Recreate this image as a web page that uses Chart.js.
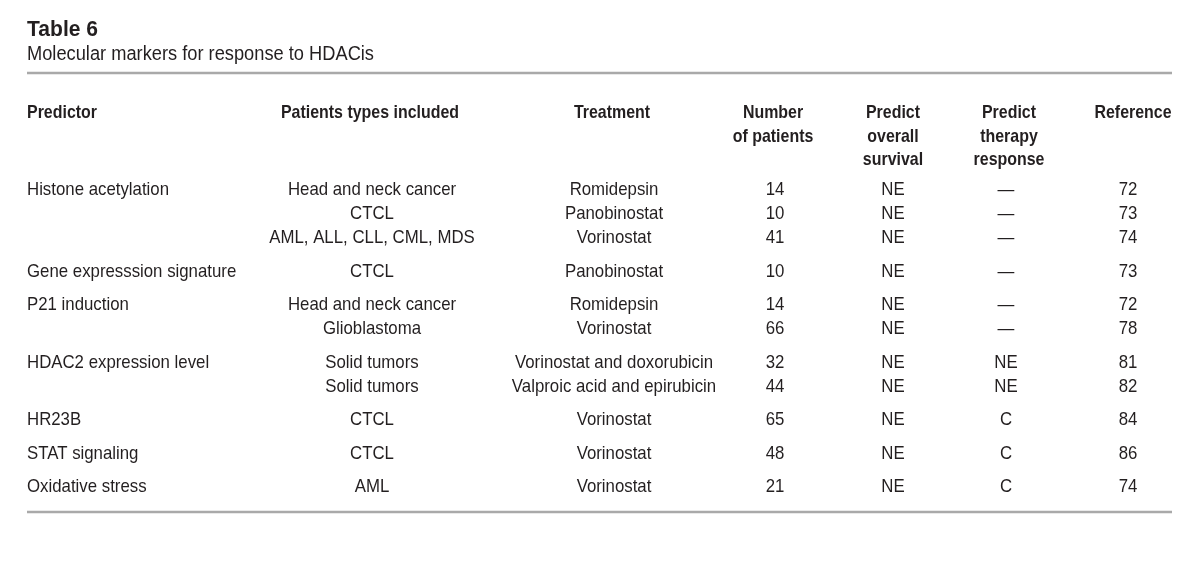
<!DOCTYPE html>
<html>
<head>
<meta charset="utf-8">
<script src="https://cdn.jsdelivr.net/npm/chart.js@4/dist/chart.umd.min.js"></script>
<style>
  html, body { margin: 0; padding: 0; background: #fff; }
  #tableChart { display: block; }
</style>
</head>
<body>
<canvas id="tableChart" width="1200" height="579"></canvas>
<script>
// table content, one array per column
const title = 'Table 6';
const subtitle = 'Molecular markers for response to HDACis';

const headers = [
    ['Predictor'],
    ['Patients types included'],
    ['Treatment'],
    ['Number', 'of patients'],
    ['Predict', 'overall', 'survival'],
    ['Predict', 'therapy', 'response'],
    ['Reference']
];

const predictor = ['Histone acetylation', '', '', 'Gene expresssion signature', 'P21 induction', '',
    'HDAC2 expression level', '', 'HR23B', 'STAT signaling', 'Oxidative stress'];
const patientTypes = ['Head and neck cancer', 'CTCL', 'AML, ALL, CLL, CML, MDS', 'CTCL', 'Head and neck cancer',
    'Glioblastoma', 'Solid tumors', 'Solid tumors', 'CTCL', 'CTCL', 'AML'];
const treatment = ['Romidepsin', 'Panobinostat', 'Vorinostat', 'Panobinostat', 'Romidepsin', 'Vorinostat',
    'Vorinostat and doxorubicin', 'Valproic acid and epirubicin', 'Vorinostat', 'Vorinostat', 'Vorinostat'];
const numPatients = [14, 10, 41, 10, 14, 66, 32, 44, 65, 48, 21];
const predictSurvival = ['NE', 'NE', 'NE', 'NE', 'NE', 'NE', 'NE', 'NE', 'NE', 'NE', 'NE'];
const predictTherapy = ['\u2014', '\u2014', '\u2014', '\u2014', '\u2014', '\u2014', 'NE', 'NE', 'C', 'C', 'C'];
const reference = [72, 73, 74, 73, 72, 78, 81, 82, 84, 86, 74];
// row groups (a new predictor starts a group)
const group = [0, 0, 0, 1, 2, 2, 3, 3, 4, 5, 6];

// layout
const columns = [predictor, patientTypes, treatment, numPatients, predictSurvival, predictTherapy, reference];
const headX = [27, 370, 612, 773, 893, 1009, 1133];
const colX = [27, 372, 614, 775, 893, 1006, 1128];
const colAlign = ['left', 'center', 'center', 'center', 'center', 'center', 'center'];
const ruleLeft = 27, ruleRight = 1172;
const topRuleY = 73, bottomRuleY = 512;
const headBase = 118, headLine = 23.5;
const rowBase = 195, rowLine = 24, groupGap = 9.5;

const FONT = "'Liberation Sans Narrow', 'Liberation Sans', Arial, sans-serif";
const textColor = '#231f20';
const ruleColor = '#a9a9a9';

// build one point per cell so the library places every cell
const cells = [];
headers.forEach((lines, c) => {
    lines.forEach((txt, l) => {
        cells.push({ x: headX[c], y: headBase + l * headLine, text: txt, bold: true, align: colAlign[c] });
    });
});
columns.forEach((col, c) => {
    col.forEach((val, r) => {
        if (val === '') return;
        cells.push({
            x: colX[c],
            y: rowBase + r * rowLine + group[r] * groupGap,
            text: String(val), bold: false, align: colAlign[c]
        });
    });
});

// squeeze the font horizontally so it looks like a condensed face
function squeeze(ctx, font, sample, target) {
    ctx.font = font;
    const w = ctx.measureText(sample).width;
    return w > 0 ? Math.min(1, target / w) : 1;
}

const tablePlugin = {
    id: 'tableText',
    afterDatasetsDraw(chart) {
        const ctx = chart.ctx;
        const xs = chart.scales.x, ys = chart.scales.y;
        const regFont = '19px ' + FONT;
        const boldFont = 'bold 19px ' + FONT;
        const titleFont = 'bold 22px ' + FONT;
        const subFont = '20px ' + FONT;
        const sReg = squeeze(ctx, regFont, 'Histone acetylation', 142);
        const sBold = squeeze(ctx, boldFont, 'Predictor', 70);
        const sTitle = squeeze(ctx, titleFont, title, 71);
        const sSub = squeeze(ctx, subFont, subtitle, 347);

        function drawText(txt, px, py, font, sx, align) {
            ctx.save();
            ctx.font = font;
            ctx.fillStyle = textColor;
            ctx.textBaseline = 'alphabetic';
            ctx.textAlign = align;
            ctx.translate(px, py);
            ctx.scale(sx, 1);
            ctx.fillText(txt, 0, 0);
            ctx.restore();
        }

        // title and subtitle
        drawText(title, xs.getPixelForValue(ruleLeft), ys.getPixelForValue(36), titleFont, sTitle, 'left');
        drawText(subtitle, xs.getPixelForValue(ruleLeft), ys.getPixelForValue(60), subFont, sSub, 'left');

        // rules
        ctx.save();
        ctx.strokeStyle = ruleColor;
        ctx.lineWidth = 2.5;
        [topRuleY, bottomRuleY].forEach(v => {
            const py = ys.getPixelForValue(v);
            ctx.beginPath();
            ctx.moveTo(xs.getPixelForValue(ruleLeft), py);
            ctx.lineTo(xs.getPixelForValue(ruleRight), py);
            ctx.stroke();
        });
        ctx.restore();

        // cells
        const meta = chart.getDatasetMeta(0);
        meta.data.forEach((el, i) => {
            const cell = cells[i];
            drawText(cell.text, el.x, el.y,
                cell.bold ? boldFont : regFont,
                cell.bold ? sBold : sReg, cell.align);
        });
    }
};

new Chart(document.getElementById('tableChart').getContext('2d'), {
    type: 'scatter',
    data: {
        datasets: [{
            data: cells,
            pointRadius: 0,
            pointHoverRadius: 0,
            showLine: false
        }]
    },
    options: {
        responsive: false,
        animation: false,
        events: [],
        layout: { padding: 0 },
        plugins: {
            legend: { display: false },
            tooltip: { enabled: false }
        },
        scales: {
            x: { type: 'linear', display: false, min: 0, max: 1200 },
            y: { type: 'linear', display: false, min: 0, max: 579, reverse: true }
        }
    },
    plugins: [tablePlugin]
});
</script>
</body>
</html>
